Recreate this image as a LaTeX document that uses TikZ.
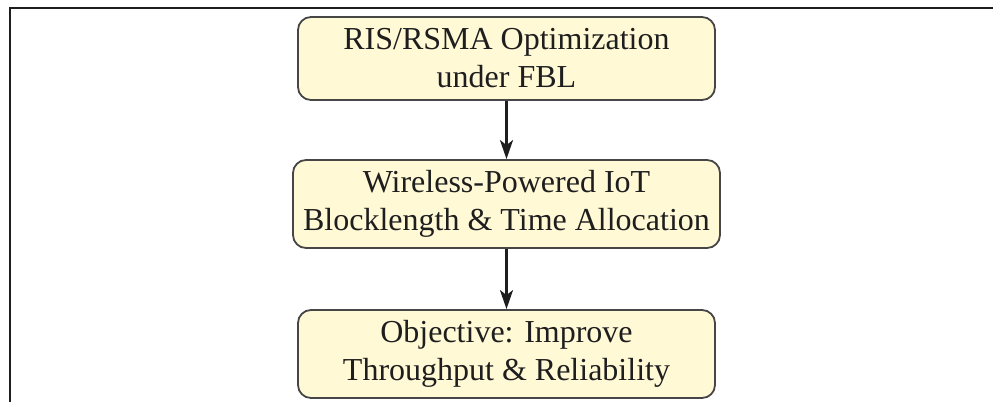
\documentclass[tikz,border=0pt]{standalone}
\usepackage{fontspec}
\setmainfont{Liberation Serif}
\usetikzlibrary{arrows.meta}
\definecolor{boxfill}{RGB}{255,249,214}
\definecolor{boxline}{RGB}{70,70,70}
\definecolor{ink}{RGB}{30,30,30}
\tikzset{
  flowbox/.style={draw=boxline, line width=0.9pt, fill=boxfill, rounded corners=6.5pt,
    align=center, inner sep=0pt, text=ink, font=\fontsize{16}{19}\selectfont},
  flowarrow/.style={-{Stealth[length=9.5pt,width=6.5pt,inset=2.5pt]}, line width=1.25pt, ink},
  framerule/.style={line width=1.2pt, ink}
}
\begin{document}
\begin{tikzpicture}[x=0.5pt,y=-0.5pt]
  \useasboundingbox (0,0) rectangle (993,402);
  % partial frame along the top and left
  \draw[framerule] (10,402) -- (10,8) -- (993,8);
  % process boxes
  \node[flowbox, minimum width=208.5pt, minimum height=41.5pt] (opt) at (506.5,58.5)
    {RIS/RSMA Optimization\\under FBL};
  \node[flowbox, minimum width=213.5pt, minimum height=44pt] (iot) at (506.5,204)
    {Wireless-Powered IoT\\Blocklength \& Time Allocation};
  \node[flowbox, minimum width=208.5pt, minimum height=44pt] (goal) at (506.5,354)
    {Objective: Improve\\Throughput \& Reliability};
  % flow
  \draw[flowarrow] (opt) -- (iot);
  \draw[flowarrow] (iot) -- (goal);
\end{tikzpicture}
\end{document}
